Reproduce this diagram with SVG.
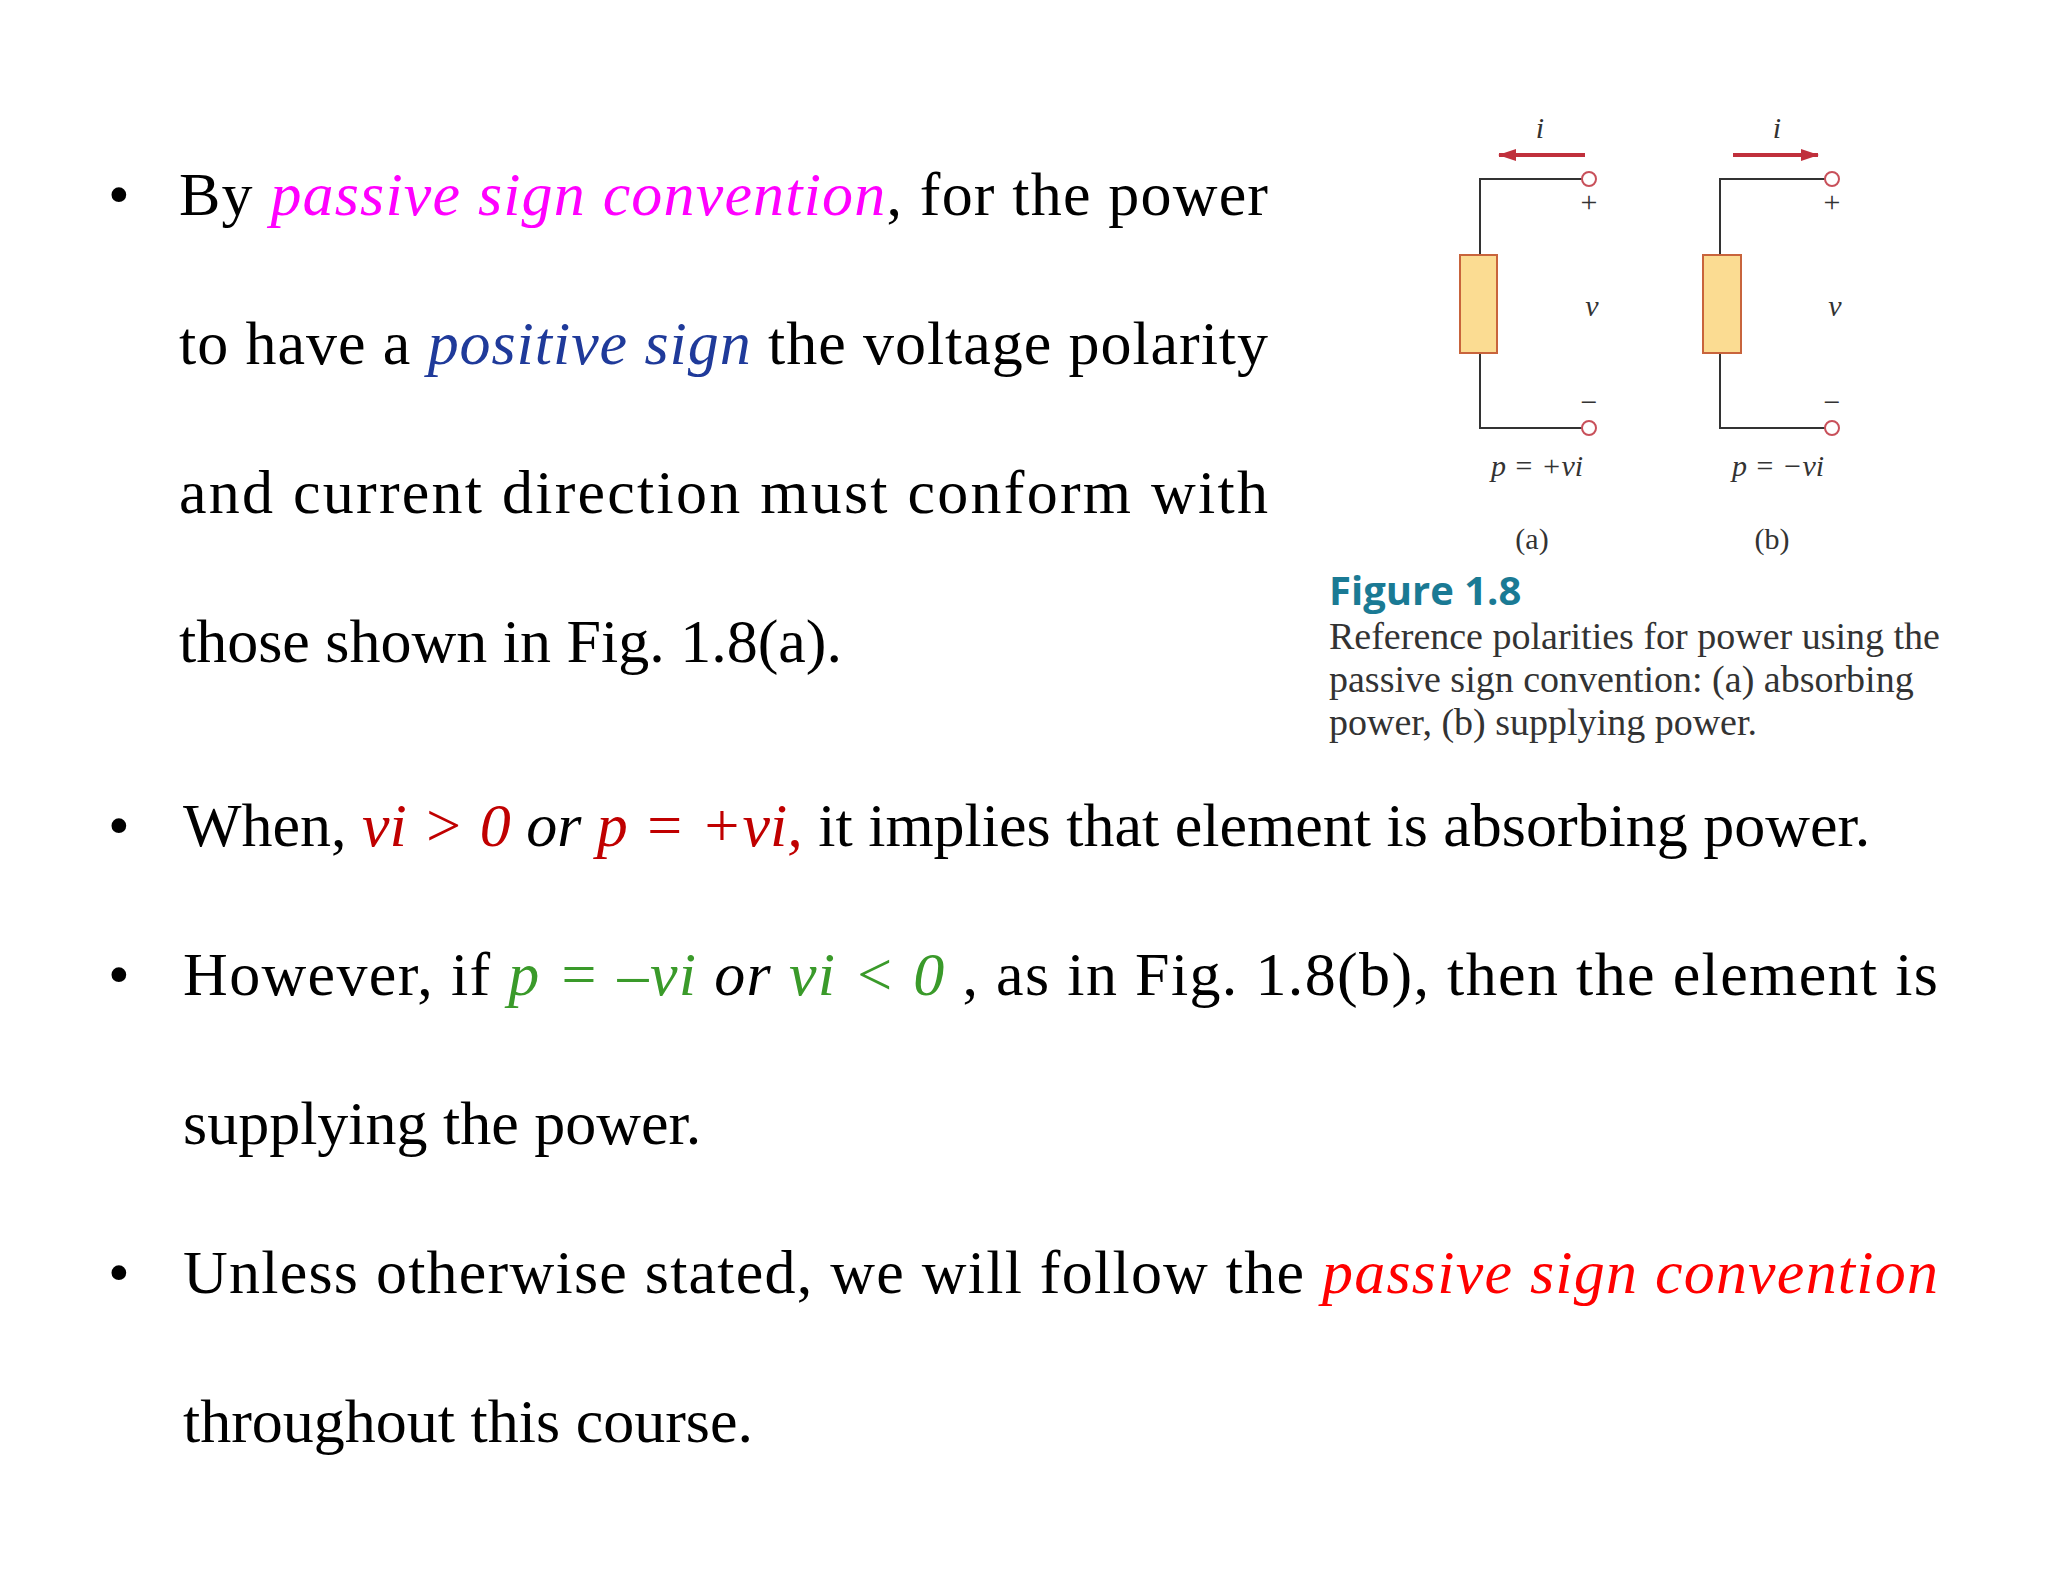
<svg xmlns="http://www.w3.org/2000/svg" width="2048" height="1582" viewBox="0 0 2048 1582">
<style>
.t{font-family:"Liberation Serif",serif;font-size:62px;fill:#000}
.i{font-style:italic}
.m{fill:#ff00ff}.b{fill:#1f3a9a}.r{fill:#c00000}.g{fill:#3a9a2a}.rr{fill:#ff0000}
.w{stroke:#333;stroke-width:2;fill:none}
.term{fill:#fff;stroke:#c8505a;stroke-width:2}
.res{fill:#fbdc92;stroke:#c8643c;stroke-width:2}
.s{font-family:"Liberation Serif",serif;font-size:30px;fill:#333}
.cap{font-family:"Liberation Serif",serif;font-size:38px;fill:#333}
</style>
<defs><marker id="ah" markerWidth="18" markerHeight="12" refX="17" refY="6" orient="auto" markerUnits="userSpaceOnUse"><path d="M0,0L18,6L0,12z" fill="#c0303c"/></marker></defs>
<rect width="2048" height="1582" fill="#fff"/>
<g id="text" class="t">
<text x="108" y="215">•</text>
<text x="179" y="215" textLength="1089" lengthAdjust="spacing">By <tspan class="i m">passive sign convention</tspan>, for the power</text>
<text x="179" y="364" textLength="1089" lengthAdjust="spacing">to have a <tspan class="i b">positive sign</tspan> the voltage polarity</text>
<text x="179" y="513" textLength="1089" lengthAdjust="spacing">and current direction must conform with</text>
<text x="179" y="662">those shown in Fig. 1.8(a).</text>
<text x="108" y="846">•</text>
<text x="183" y="846">When, <tspan class="i r">vi &gt; 0 </tspan><tspan class="i">or </tspan><tspan class="i r">p = +vi,</tspan> it  implies that element is absorbing power.</text>
<text x="108" y="995">•</text>
<text x="183" y="995" textLength="1755" lengthAdjust="spacing">However, if <tspan class="i g">p = –vi </tspan><tspan class="i">or </tspan><tspan class="i g">vi &lt; 0</tspan> , as in Fig. 1.8(b), then the element is</text>
<text x="183" y="1144">supplying the power.</text>
<text x="108" y="1293">•</text>
<text x="183" y="1293" textLength="1755" lengthAdjust="spacing">Unless otherwise stated, we will follow the <tspan class="i rr">passive sign convention</tspan></text>
<text x="183" y="1442">throughout this course.</text>
</g>
<g id="circuit-a">
<path class="w" d="M1589,179H1480V255M1480,353V428H1589"/>
<rect class="res" x="1460" y="255" width="37" height="98"/>
<circle class="term" cx="1589" cy="179" r="7"/><circle class="term" cx="1589" cy="428" r="7"/>
<line x1="1585" y1="155" x2="1499" y2="155" stroke="#c0303c" stroke-width="4" marker-end="url(#ah)"/>
<text class="s i" x="1540" y="138" text-anchor="middle">i</text>
<text class="s" x="1589" y="212" text-anchor="middle">+</text>
<text class="s i" x="1592" y="316" text-anchor="middle">v</text>
<text class="s" x="1589" y="412" text-anchor="middle">−</text>
<text class="s i" x="1537" y="476" text-anchor="middle">p = +vi</text>
<text class="s" x="1532" y="549" text-anchor="middle">(a)</text>
</g>
<g id="circuit-b">
<path class="w" d="M1832,179H1720V255M1720,353V428H1832"/>
<rect class="res" x="1703" y="255" width="38" height="98"/>
<circle class="term" cx="1832" cy="179" r="7"/><circle class="term" cx="1832" cy="428" r="7"/>
<line x1="1733" y1="155" x2="1818" y2="155" stroke="#c0303c" stroke-width="4" marker-end="url(#ah)"/>
<text class="s i" x="1777" y="138" text-anchor="middle">i</text>
<text class="s" x="1832" y="212" text-anchor="middle">+</text>
<text class="s i" x="1835" y="316" text-anchor="middle">v</text>
<text class="s" x="1832" y="412" text-anchor="middle">−</text>
<text class="s i" x="1778" y="476" text-anchor="middle">p = −vi</text>
<text class="s" x="1772" y="549" text-anchor="middle">(b)</text>
</g>
<g id="caption">
<text x="1329" y="605" font-family="'Open Sans',sans-serif" font-weight="bold" font-size="40" fill="#1a7a94">Figure 1.8</text>
<text class="cap" x="1329" y="649">Reference polarities for power using the</text>
<text class="cap" x="1329" y="692">passive sign convention: (a) absorbing</text>
<text class="cap" x="1329" y="735">power, (b) supplying power.</text>
</g>
</svg>
